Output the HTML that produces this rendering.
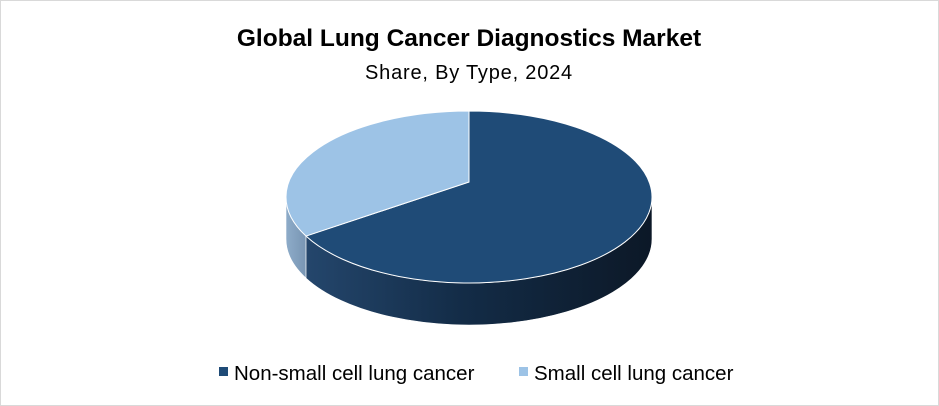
<!DOCTYPE html>
<html><head><meta charset="utf-8"><style>
body{margin:0;background:#fff;}
#wrap{position:relative;width:937px;height:404px;border:1px solid #d9d9d9;background:#fff;font-family:"Liberation Sans",Calibri,sans-serif;overflow:hidden}
</style></head><body>
<div id="wrap">
<svg id="chart" width="937" height="404">
<defs>
<linearGradient id="gBig" x1="0" x2="1" y1="0" y2="0">
<stop offset="0" stop-color="#24466c"/><stop offset="0.45" stop-color="#132c47"/><stop offset="1" stop-color="#0c1827"/>
</linearGradient>
<linearGradient id="gSmall" x1="0" x2="1" y1="0" y2="0">
<stop offset="0" stop-color="#8eacc9"/><stop offset="1" stop-color="#7895b3"/>
</linearGradient>
</defs>
<text x="468" y="45" text-anchor="middle" font-size="24.5" font-weight="bold" fill="#000">Global Lung Cancer Diagnostics Market</text>
<text x="468" y="78" text-anchor="middle" font-size="20" letter-spacing="0.8" fill="#000">Share, By Type, 2024</text>
</svg>
</div>
<script>
const categories = ["Non-small cell lung cancer", "Small cell lung cancer"];
const values = [67.5, 32.5];
const topColors = ["#1f4b77", "#9dc3e6"];
const sideFills = ["url(#gBig)", "url(#gSmall)"];

const svg = document.getElementById('chart');
const NS = 'http://www.w3.org/2000/svg';
const cx = 468, cy = 196, rx = 183, ry = 86, depth = 42, vx = 468, vy = 181;
const total = values.reduce((a, b) => a + b, 0);
function px(a) { return cx + rx * Math.cos(a * Math.PI / 180); }
function py(a) { return cy + ry * Math.sin(a * Math.PI / 180); }

const ranges = [];
let start = -90;
values.forEach((v) => { const span = v / total * 360; ranges.push([start, start + span]); start += span; });

ranges.forEach((r, i) => {
  const segs = [[r[0], r[1]], [r[0] - 360, r[1] - 360], [r[0] + 360, r[1] + 360]];
  segs.forEach(s => {
    const a1 = Math.max(s[0], 0), a2 = Math.min(s[1], 180);
    if (a2 <= a1) return;
    const large = (a2 - a1) > 180 ? 1 : 0;
    const d = `M${px(a1)},${py(a1)} A${rx},${ry} 0 ${large} 1 ${px(a2)},${py(a2)} L${px(a2)},${py(a2) + depth} A${rx},${ry} 0 ${large} 0 ${px(a1)},${py(a1) + depth} Z`;
    const p = document.createElementNS(NS, 'path');
    p.setAttribute('d', d);
    p.setAttribute('fill', sideFills[i]);
    p.setAttribute('stroke', '#ffffff');
    p.setAttribute('stroke-width', '0.6');
    
    
    svg.appendChild(p);
  });
});

ranges.forEach((r, i) => {
  const large = (r[1] - r[0]) > 180 ? 1 : 0;
  const d = `M${vx},${vy} L${px(r[0])},${py(r[0])} A${rx},${ry} 0 ${large} 1 ${px(r[1])},${py(r[1])} Z`;
  const p = document.createElementNS(NS, 'path');
  p.setAttribute('d', d);
  p.setAttribute('fill', topColors[i]);
  p.setAttribute('stroke', '#ffffff');
  p.setAttribute('stroke-width', '1');
  
  
  svg.appendChild(p);
});

const legendX = [218, 518];
categories.forEach((c, i) => {
  const g = document.createElementNS(NS, 'g');
  
  
  const rct = document.createElementNS(NS, 'rect');
  rct.setAttribute('x', legendX[i]); rct.setAttribute('y', 366);
  rct.setAttribute('width', 9); rct.setAttribute('height', 9);
  rct.setAttribute('fill', topColors[i]);
  
  
  const t = document.createElementNS(NS, 'text');
  t.setAttribute('x', legendX[i] + 15); t.setAttribute('y', 379);
  t.setAttribute('font-size', '20.5'); t.setAttribute('fill', '#000');
  t.textContent = c;
  
  
  g.appendChild(rct); g.appendChild(t);
  svg.appendChild(g);
});
</script>
</body></html>
